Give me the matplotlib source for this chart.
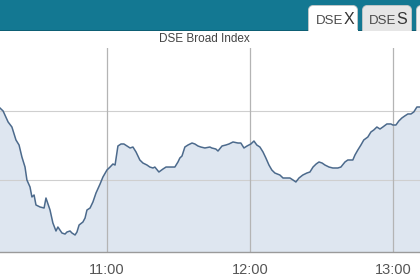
"""DSE Broad Index intraday area chart."""

import matplotlib

matplotlib.use("Agg")

import matplotlib.pyplot as plt
from matplotlib.patches import FancyBboxPatch, Rectangle

plt.rcParams["font.family"] = ["Liberation Sans", "DejaVu Sans"]

# minutes after 10:00
minutes = [
    15.1, 16.4, 18.5, 20.1, 21.8, 23.1, 24.3, 25.6, 26.4, 27.7, 28.5, 29.4, 30.2, 31.9,
    33.6, 34.4, 36.1, 37.3, 38.6, 39.4, 41.1, 42.4, 43.2, 44.5, 45.3, 46.6, 47.4, 48.3,
    49.9, 50.8, 51.6, 52.9, 54.1, 55.4, 57.1, 58.3, 60.0, 61.3, 62.5, 63.4, 64.6, 65.9,
    67.1, 68.4, 69.7, 70.9, 72.2, 73.8, 75.1, 76.8, 78.0, 79.3, 80.1, 81.8, 83.5, 84.8,
    86.4, 88.5, 89.8, 90.6, 91.5, 92.7, 94.0, 95.7, 96.9, 98.2, 99.4, 101.1, 103.2,
    104.0, 105.7, 106.6, 108.3, 109.9, 111.2, 112.9, 115.0, 116.2, 117.5, 118.8, 120.4,
    121.7, 122.9, 124.2, 125.5, 126.7, 128.0, 129.2, 130.5, 132.6, 133.9, 135.1, 136.8,
    138.1, 139.3, 140.6, 142.2, 143.9, 145.2, 146.5, 147.8, 149.0, 150.3, 151.5, 153.2,
    154.8, 156.9, 158.2, 159.9, 161.1, 163.2, 164.1, 165.3, 166.6, 167.8, 169.5, 170.8,
    172.0, 173.3, 174.6, 175.8, 177.5, 179.2, 180.0, 181.3, 182.5, 183.8, 185.0, 186.3,
    187.6, 188.8, 190.1, 191.4,
]
index_values = [
    5320.43, 5320.00, 5318.41, 5317.68, 5315.80, 5315.07, 5313.33, 5311.88, 5310.00,
    5308.99, 5307.54, 5307.83, 5306.38, 5306.09, 5305.94, 5307.39, 5305.65, 5303.77,
    5302.61, 5303.19, 5302.32, 5302.17, 5302.46, 5302.61, 5302.32, 5302.03, 5302.46,
    5303.48, 5303.91, 5304.49, 5305.65, 5305.94, 5306.81, 5308.12, 5309.42, 5310.43,
    5311.45, 5311.88, 5312.32, 5312.17, 5314.93, 5315.22, 5315.22, 5314.93, 5314.64,
    5314.78, 5314.06, 5312.90, 5312.46, 5312.17, 5311.88, 5311.74, 5311.88, 5311.16,
    5311.59, 5311.88, 5311.88, 5311.88, 5312.61, 5313.19, 5313.48, 5314.78, 5315.07,
    5315.36, 5315.22, 5314.93, 5314.78, 5314.64, 5314.78, 5314.64, 5314.49, 5314.20,
    5314.93, 5315.07, 5315.22, 5315.51, 5315.36, 5315.36, 5314.64, 5314.93, 5315.22,
    5315.65, 5315.07, 5314.78, 5314.06, 5313.19, 5312.17, 5311.45, 5311.01, 5310.72,
    5310.29, 5310.29, 5310.29, 5310.00, 5309.71, 5310.29, 5310.72, 5311.01, 5311.16,
    5311.88, 5312.32, 5312.61, 5312.46, 5312.17, 5311.88, 5311.74, 5311.74, 5311.88,
    5312.61, 5312.90, 5312.90, 5313.62, 5314.35, 5315.07, 5315.80, 5316.23, 5316.96,
    5317.25, 5317.68, 5317.39, 5317.68, 5318.12, 5318.12, 5317.97, 5317.97, 5318.55,
    5318.99, 5319.28, 5319.57, 5319.57, 5319.86, 5320.58, 5320.58,
]
tick_minutes = [60, 120, 180]
tick_labels = ["11:00", "12:00", "13:00"]
grid_values = [5310, 5320]
title = "DSE Broad Index"
tabs = [("DSE", "X"), ("DSE", "S")]

W, H = 420, 280


def fx(px):
    return px / W


def fy(py):
    return 1 - py / H


fig = plt.figure(figsize=(4.2, 2.8), dpi=100)
fig.patch.set_facecolor("white")

# header bar with tabs
fig.patches.append(Rectangle((0, fy(31)), 1, 31 / H, transform=fig.transFigure,
                             facecolor="#137892", edgecolor="none", zorder=0))
fig.patches.append(Rectangle((0, fy(31)), 1, 1.5 / H, transform=fig.transFigure,
                             facecolor="#0d5f74", edgecolor="none", zorder=0.5))
tab_boxes = [(308, 358, "white"), (362, 412, "#e6e6e6"), (416, 440, "#f4f4f4")]
for x0, x1, col in tab_boxes:
    fig.patches.append(FancyBboxPatch((fx(x0 + 3), fy(40)), (x1 - x0 - 6) / W, 32 / H,
                                      boxstyle="round,pad=0.006,rounding_size=0.012",
                                      transform=fig.transFigure, facecolor=col,
                                      edgecolor="#c8c8c8", linewidth=0.6, zorder=1,
                                      mutation_aspect=W / H))
fig.patches.append(Rectangle((0, 0), 1, fy(31), transform=fig.transFigure,
                             facecolor="white", edgecolor="none", zorder=2))
fig.patches.append(Rectangle((fx(308.5), fy(32.5)), 49 / W, 2.5 / H, transform=fig.transFigure,
                             facecolor="white", edgecolor="none", zorder=2))
for (small, big), sx in zip(tabs, [343.5, 396.5]):
    fig.text(fx(sx), fy(24), small, fontsize=9.5, color="#4a4a4a", ha="right", va="baseline", zorder=3)
    fig.text(fx(sx), fy(24), big, fontsize=11.5, color="#333333", ha="left", va="baseline", zorder=3)

fig.text(fx(204), fy(39.5), title, fontsize=8.5, color="#444444", ha="center", va="center", zorder=3)

ax = fig.add_axes([0, fy(252), 1, (252 - 48) / H])
ax.set_zorder(3)
ax.patch.set_alpha(0)
y_top = 5320 + (111 - 48) / 6.9
y_bot = 5320 - (252 - 111) / 6.9
ax.fill_between(minutes, index_values, y_bot, color="#dee6f0", linewidth=0, zorder=1)
ax.plot(minutes, index_values, color="#4c6a8c", linewidth=1.1, zorder=3)
for gv in grid_values:
    ax.axhline(gv, color="#cfcfcf", linewidth=0.8, zorder=2)
for tm in tick_minutes:
    ax.axvline(tm, color="#b4b4b4", linewidth=0.9, zorder=2)
ax.set_xlim(15.1, 191.4)
ax.set_ylim(y_bot, y_top)
ax.set_xticks(tick_minutes)
ax.set_xticklabels(tick_labels)
ax.tick_params(axis="x", length=0, pad=8, labelsize=10.5, colors="#555555")
ax.set_yticks([])
for side in ["top", "left", "right"]:
    ax.spines[side].set_visible(False)
ax.spines["bottom"].set_color("#9a9a9a")
ax.spines["bottom"].set_linewidth(1.0)

fig.add_artist(plt.Line2D([0, 1], [fy(274), fy(274)], transform=fig.transFigure,
                          color="#dddddd", linewidth=1.0))

fig.savefig("out.png", dpi=100, facecolor=fig.get_facecolor())
